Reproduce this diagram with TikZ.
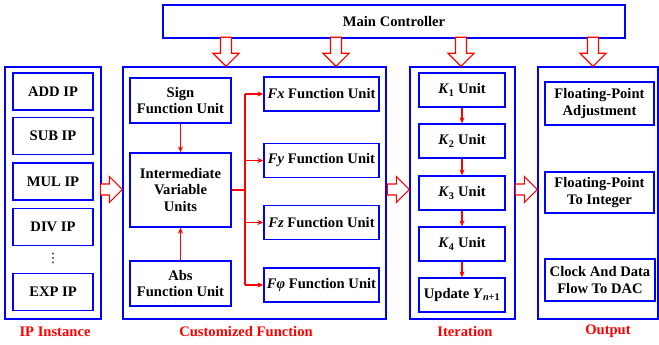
\documentclass[tikz,border=0pt]{standalone}
\usepackage{fontspec}
\setmainfont{Liberation Serif}
\newfontfamily\symbfont{DejaVu Sans}
\usetikzlibrary{arrows.meta}
\tikzset{
    pics/fatarrow/.style={code={
        \draw[red, line width=1.2pt, fill=white, line join=miter]
            (0,0) -- (-13,13) -- (-13,5.5) -- (-#1,5.5) -- (-#1,-5.5) -- (-13,-5.5) -- (-13,-13) -- cycle;
    }}
}
\begin{document}
\begin{tikzpicture}[x=1pt, y=-1pt, >={Stealth[length=6pt,width=5pt]},
        every node/.style={font=\fontsize{14.6}{16.5}\selectfont\bfseries},
        frame/.style={draw=blue, line width=1.3pt, inner sep=0pt},
        unit/.style={draw=blue, line width=1.3pt, align=center, inner sep=1pt},
        link/.style={red, line width=1.2pt},
        caption/.style={red}]
    \useasboundingbox (0,0) rectangle (659,345);
    % Controlador y columnas
    \node[unit, minimum width=462, minimum height=33] (ctrl) at (394,21.5) {Main Controller};
    \node[frame, minimum width=96,  minimum height=252] (ip)  at (53,193)    {};
    \node[frame, minimum width=263, minimum height=252] (cf)  at (254.5,193) {};
    \node[frame, minimum width=105, minimum height=252] (it)  at (462.5,193) {};
    \node[frame, minimum width=120, minimum height=252] (out) at (598,193)   {};
    % Columna IP
    \node[unit, minimum width=80, minimum height=37] (add) at (53,91.5) {ADD IP};
    \node[unit, minimum width=80, minimum height=37] (sub) at (53,136)  {SUB IP};
    \node[unit, minimum width=80, minimum height=37] (mul) at (53,181.5) {MUL IP};
    \node[unit, minimum width=80, minimum height=37] (div) at (53,227)  {DIV IP};
    \node[font=\symbfont\fontsize{13}{13}\selectfont] (dots) at (53,258) {⋮};
    \node[unit, minimum width=80, minimum height=37] (exp) at (53,292)  {EXP IP};
    % Funciones
    \node[unit, minimum width=101, minimum height=45] (sign)  at (180.5,100.5) {Sign\\Function Unit};
    \node[unit, minimum width=101, minimum height=74] (inter) at (180.5,190)   {Intermediate\\Variable\\Units};
    \node[unit, minimum width=101, minimum height=45] (abs)   at (180.5,283.5) {Abs\\Function Unit};
    \node[unit, minimum width=115, minimum height=34] (fx)   at (321.5,94)    {\textit{Fx} Function Unit};
    \node[unit, minimum width=115, minimum height=34] (fy)   at (321.5,160.5) {\textit{Fy} Function Unit};
    \node[unit, minimum width=115, minimum height=34] (fz)   at (321.5,222.5) {\textit{Fz} Function Unit};
    \node[unit, minimum width=115, minimum height=34] (fphi) at (321.5,285)   {\textit{Fφ} Function Unit};
    \draw[link, ->] (sign) -- (inter);
    \draw[link, ->] (abs) -- (inter);
    \coordinate (bus) at (245,0);
    \draw[link] (inter.east) -- (inter.east -| bus);
    \draw[link] (bus |- fx.west) -- (bus |- fphi.west);
    \foreach \f in {fx, fy, fz, fphi} {
        \draw[link, ->] (bus |- \f.west) -- (\f.west);
    }
    % Iteracion
    \node[unit, minimum width=86, minimum height=34] (k1)  at (462,90)  {\textit{K}\textsubscript{1} Unit};
    \node[unit, minimum width=86, minimum height=34] (k2)  at (462,141) {\textit{K}\textsubscript{2} Unit};
    \node[unit, minimum width=86, minimum height=34] (k3)  at (462,193) {\textit{K}\textsubscript{3} Unit};
    \node[unit, minimum width=86, minimum height=34] (k4)  at (462,244) {\textit{K}\textsubscript{4} Unit};
    \node[unit, minimum width=86, minimum height=34] (upd) at (462,295) {Update \textit{Y}\textsubscript{\textit{n}+1}};
    \foreach \a/\b in {k1/k2, k2/k3, k3/k4, k4/upd} {
        \draw[link, ->] (\a) -- (\b);
    }
    % Salida
    \node[unit, minimum width=109, minimum height=43] (fpa) at (599.5,103.5) {Floating-Point\\Adjustment};
    \node[unit, minimum width=109, minimum height=41] (fpi) at (599.5,192.5) {Floating-Point\\To Integer};
    \node[unit, minimum width=110, minimum height=42] (dac) at (600,280)     {Clock And Data\\Flow To DAC};
    % Flechas huecas
    \foreach \x/\col in {226/cf, 336/cf, 461/it, 593/out} {
        \coordinate (drop) at (\x,0);
        \pic[rotate=-90] at (drop |- \col.north) {fatarrow=29};
    }
    \coordinate (mid) at (0,189.5);
    \foreach \col in {cf, it, out} {
        \pic at (\col.west |- mid) {fatarrow=22};
    }
    % Titulos
    \node[caption] (ipcap)  at (55,331.5)  {IP Instance};
    \node[caption] (cfcap)  at (246,331.5) {Customized Function};
    \node[caption] (itcap)  at (465,331.5) {Iteration};
    \node[caption] (outcap) at (608,331)   {Output};
\end{tikzpicture}
\end{document}
